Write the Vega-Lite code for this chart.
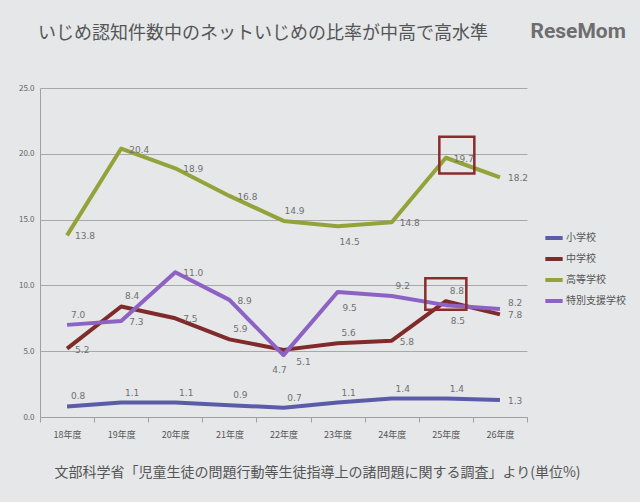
{
  "$schema": "https://vega.github.io/schema/vega-lite/v6.json",
  "width": 487,
  "height": 329,
  "autosize": "none",
  "padding": {"left": 40, "top": 88, "right": 113, "bottom": 85},
  "background": "#e5e7e9",
  "config": {"view": {"stroke": null}, "font": "Noto Sans CJK JP"},
  "title": {
    "text": "いじめ認知件数中のネットいじめの比率が中高で高水準",
    "anchor": "start",
    "frame": "group",
    "dx": -2,
    "offset": 0,
    "dy": 23,
    "fontSize": 18,
    "fontWeight": "normal",
    "color": "#555555",
    "font": "Noto Sans CJK JP"
  },
  "data": {
    "values": [
      {"year": "18年度", "series": "小学校", "value": 0.8},
      {"year": "19年度", "series": "小学校", "value": 1.1},
      {"year": "20年度", "series": "小学校", "value": 1.1},
      {"year": "21年度", "series": "小学校", "value": 0.9},
      {"year": "22年度", "series": "小学校", "value": 0.7},
      {"year": "23年度", "series": "小学校", "value": 1.1},
      {"year": "24年度", "series": "小学校", "value": 1.4},
      {"year": "25年度", "series": "小学校", "value": 1.4},
      {"year": "26年度", "series": "小学校", "value": 1.3},
      {"year": "18年度", "series": "中学校", "value": 5.2},
      {"year": "19年度", "series": "中学校", "value": 8.4},
      {"year": "20年度", "series": "中学校", "value": 7.5},
      {"year": "21年度", "series": "中学校", "value": 5.9},
      {"year": "22年度", "series": "中学校", "value": 5.1},
      {"year": "23年度", "series": "中学校", "value": 5.6},
      {"year": "24年度", "series": "中学校", "value": 5.8},
      {"year": "25年度", "series": "中学校", "value": 8.8},
      {"year": "26年度", "series": "中学校", "value": 7.8},
      {"year": "18年度", "series": "高等学校", "value": 13.8},
      {"year": "19年度", "series": "高等学校", "value": 20.4},
      {"year": "20年度", "series": "高等学校", "value": 18.9},
      {"year": "21年度", "series": "高等学校", "value": 16.8},
      {"year": "22年度", "series": "高等学校", "value": 14.9},
      {"year": "23年度", "series": "高等学校", "value": 14.5},
      {"year": "24年度", "series": "高等学校", "value": 14.8},
      {"year": "25年度", "series": "高等学校", "value": 19.7},
      {"year": "26年度", "series": "高等学校", "value": 18.2},
      {"year": "18年度", "series": "特別支援学校", "value": 7.0},
      {"year": "19年度", "series": "特別支援学校", "value": 7.3},
      {"year": "20年度", "series": "特別支援学校", "value": 11.0},
      {"year": "21年度", "series": "特別支援学校", "value": 8.9},
      {"year": "22年度", "series": "特別支援学校", "value": 4.7},
      {"year": "23年度", "series": "特別支援学校", "value": 9.5},
      {"year": "24年度", "series": "特別支援学校", "value": 9.2},
      {"year": "25年度", "series": "特別支援学校", "value": 8.5},
      {"year": "26年度", "series": "特別支援学校", "value": 8.2}
    ]
  },
  "encoding": {
    "x": {
      "field": "year",
      "type": "ordinal",
      "scale": {"type": "band", "paddingInner": 0, "paddingOuter": 0, "domain": ["18年度","19年度","20年度","21年度","22年度","23年度","24年度","25年度","26年度"]},
      "axis": {
        "title": "文部科学省「児童生徒の問題行動等生徒指導上の諸問題に関する調査」より(単位%)",
        "titleFont": "Noto Sans CJK JP",
        "titleFontSize": 14,
        "titleFontWeight": "normal",
        "titleColor": "#555555",
        "titleX": 277,
        "titleY": 55,
        "titleBaseline": "middle",
        "labelAngle": 0,
        "labelFontSize": 9,
        "labelColor": "#555555",
        "labelPadding": 8,
        "tickBand": "extent",
        "ticks": true,
        "tickSize": 5,
        "tickColor": "#a0a0a0",
        "domainColor": "#a0a0a0",
        "grid": false
      }
    },
    "y": {
      "field": "value",
      "type": "quantitative",
      "scale": {"domain": [0, 25], "nice": false},
      "axis": {
        "values": [0, 5, 10, 15, 20, 25],
        "format": ".1f",
        "labelFontSize": 8,
        "labelColor": "#666666",
        "labelPadding": 6,
        "ticks": false,
        "domainColor": "#a0a0a0",
        "grid": true,
        "gridColor": "#a8a8a8",
        "title": "ReseMom",
        "titleAngle": 0,
        "titleX": 490,
        "titleY": -57,
        "titleAlign": "left",
        "titleBaseline": "middle",
        "titleFont": "Roboto",
        "titleFontSize": 21,
        "titleFontWeight": "bold",
        "titleColor": "#6e6e6e"
      }
    }
  },
  "layer": [
    {
      "mark": {"type": "line", "strokeWidth": 4, "strokeJoin": "round"},
      "encoding": {
        "color": {
          "field": "series",
          "type": "nominal",
          "scale": {
            "domain": ["小学校", "中学校", "高等学校", "特別支援学校"],
            "range": ["#5a5ca8", "#7e2b2a", "#94a23a", "#8d62c4"]
          },
          "legend": {
            "title": null,
            "orient": "none",
            "legendX": 503,
            "legendY": 139,
            "symbolType": "stroke",
            "symbolSize": 300,
            "symbolStrokeWidth": 4,
            "labelFontSize": 10,
            "labelColor": "#555555",
            "labelOffset": 1,
            "rowPadding": 2
          }
        }
      }
    },
    {
      "transform": [{"filter": "indexof(['小学校18年度','小学校19年度','小学校20年度','小学校21年度','小学校22年度','小学校23年度','小学校24年度','小学校25年度','中学校19年度','中学校21年度','中学校23年度','中学校25年度','特別支援学校18年度','特別支援学校24年度','高等学校22年度'], datum.series + datum.year) >= 0"}],
      "mark": {"type": "text", "align": "center", "baseline": "middle", "dx": 11, "dy": -10, "fontSize": 9, "color": "#707070", "font": "DejaVu Sans"},
      "encoding": {"text": {"field": "value", "type": "quantitative", "format": ".1f"}}
    },
    {
      "transform": [{"filter": "indexof(['高等学校23年度','特別支援学校23年度','特別支援学校25年度'], datum.series + datum.year) >= 0"}],
      "mark": {"type": "text", "align": "center", "baseline": "middle", "dx": 12, "dy": 16, "fontSize": 9, "color": "#707070", "font": "DejaVu Sans"},
      "encoding": {"text": {"field": "value", "type": "quantitative", "format": ".1f"}}
    },
    {
      "transform": [{"filter": "datum.series + datum.year == '特別支援学校22年度'"}],
      "mark": {"type": "text", "align": "center", "baseline": "middle", "dx": -4, "dy": 15, "fontSize": 9, "color": "#707070", "font": "DejaVu Sans"},
      "encoding": {"text": {"field": "value", "type": "quantitative", "format": ".1f"}}
    },
    {
      "transform": [{"filter": "datum.series + datum.year == '中学校22年度'"}],
      "mark": {"type": "text", "align": "center", "baseline": "middle", "dx": 20, "dy": 12, "fontSize": 9, "color": "#707070", "font": "DejaVu Sans"},
      "encoding": {"text": {"field": "value", "type": "quantitative", "format": ".1f"}}
    },
    {
      "transform": [{"filter": "indexof(['小学校18年度','小学校19年度','小学校20年度','小学校21年度','小学校22年度','小学校23年度','小学校24年度','小学校25年度','中学校19年度','中学校21年度','中学校23年度','中学校25年度','特別支援学校18年度','特別支援学校24年度','高等学校22年度','高等学校23年度','特別支援学校22年度','特別支援学校23年度','特別支援学校25年度','中学校22年度','特別支援学校26年度'], datum.series + datum.year) < 0"}],
      "mark": {"type": "text", "align": "left", "baseline": "middle", "dx": 8, "dy": 1, "fontSize": 9, "color": "#707070", "font": "DejaVu Sans"},
      "encoding": {"text": {"field": "value", "type": "quantitative", "format": ".1f"}}
    },
    {
      "transform": [{"filter": "datum.series + datum.year == '特別支援学校26年度'"}],
      "mark": {"type": "text", "align": "left", "baseline": "middle", "dx": 8, "dy": -6, "fontSize": 9, "color": "#707070", "font": "DejaVu Sans"},
      "encoding": {"text": {"field": "value", "type": "quantitative", "format": ".1f"}}
    },
    {
      "data": {"values": [{"year": "25年度", "top": 21.3, "bottom": 18.5}]},
      "mark": {"type": "rect", "filled": false, "stroke": "#8b2c2c", "strokeWidth": 2.5, "width": 35, "xOffset": 11},
      "encoding": {
        "y": {"field": "top", "type": "quantitative"},
        "y2": {"field": "bottom"}
      }
    },
    {
      "data": {"values": [{"year": "25年度", "top": 10.55, "bottom": 8.15}]},
      "mark": {"type": "rect", "filled": false, "stroke": "#8b2c2c", "strokeWidth": 2.5, "width": 41, "xOffset": 0},
      "encoding": {
        "y": {"field": "top", "type": "quantitative"},
        "y2": {"field": "bottom"}
      }
    }
  ]
}
